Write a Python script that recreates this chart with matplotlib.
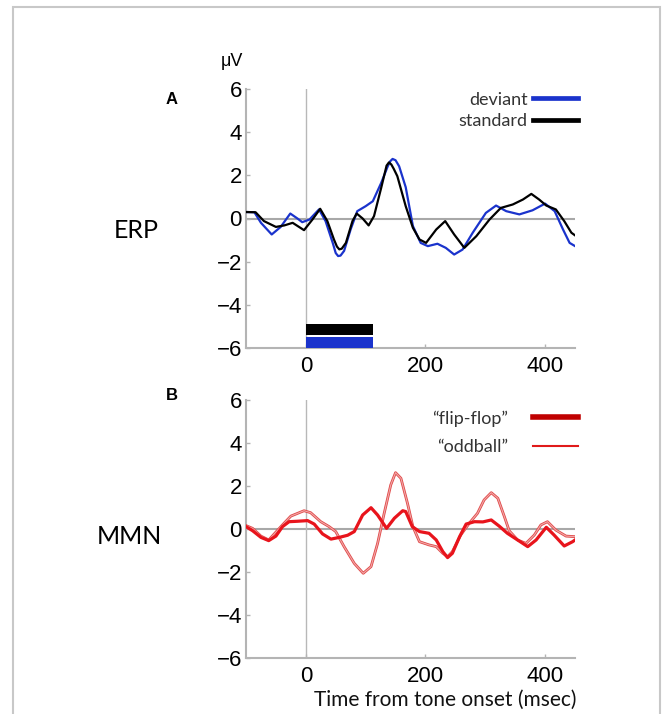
import matplotlib
matplotlib.use("Agg")
import matplotlib.pyplot as plt
import matplotlib.patheffects as pe
from matplotlib.lines import Line2D
from matplotlib.patches import Rectangle

plt.rcParams["font.family"] = ["Liberation Sans", "DejaVu Sans"]

# ---------------- data ----------------
deviant_t = [-100, -86, -75, -57, -42, -26, -14, -6, 6, 22, 33, 45, 50, 54, 58, 64, 75, 86, 100,
             112, 126, 137, 141, 145, 150, 156, 167, 179, 192, 204, 220, 234, 248, 262, 279,
             301, 318, 335, 357, 379, 400, 416, 430, 441, 452]
deviant_uv = [0.30, 0.29, -0.20, -0.74, -0.39, 0.23, 0.00, -0.17, -0.05, 0.42, -0.12, -1.13,
              -1.60, -1.74, -1.72, -1.50, -0.50, 0.34, 0.57, 0.80, 1.65, 2.42, 2.65, 2.76,
              2.70, 2.42, 1.45, -0.35, -1.13, -1.28, -1.17, -1.36, -1.67, -1.44, -0.66, 0.26,
              0.60, 0.34, 0.19, 0.38, 0.69, 0.34, -0.51, -1.13, -1.31]

standard_t = [-100, -84, -70, -50, -36, -22, -3, 11, 24, 36, 47, 52, 56, 60, 67, 78, 85, 95,
              105, 114, 126, 135, 139, 143, 147, 153, 167, 179, 190, 201, 218, 233, 248, 265,
              285, 307, 326, 346, 363, 377, 390, 402, 418, 432, 444, 452]
standard_uv = [0.30, 0.29, -0.12, -0.39, -0.32, -0.20, -0.54, -0.05, 0.45, -0.12, -0.97,
               -1.30, -1.43, -1.40, -1.13, -0.12, 0.23, 0.00, -0.32, 0.11, 1.42, 2.45, 2.60,
               2.50, 2.30, 1.96, 0.57, -0.43, -0.97, -1.13, -0.51, -0.12, -0.74, -1.36, -0.82,
               -0.05, 0.49, 0.65, 0.88, 1.14, 0.88, 0.60, 0.42, -0.12, -0.66, -0.82]

flipflop_t = [-100, -89, -75, -62, -50, -39, -28, -14, 3, 14, 28, 42, 56, 70, 81, 95, 109,
              120, 135, 148, 162, 167, 178, 190, 206, 218, 229, 237, 245, 257, 268, 282, 296,
              310, 323, 337, 354, 371, 385, 402, 415, 432, 446, 452]
flipflop_uv = [0.11, -0.08, -0.39, -0.54, -0.33, 0.11, 0.34, 0.36, 0.39, 0.23, -0.23, -0.47,
               -0.39, -0.29, -0.12, 0.65, 0.99, 0.65, 0.03, 0.50, 0.85, 0.81, 0.11, -0.12,
               -0.20, -0.51, -1.05, -1.33, -1.13, -0.36, 0.23, 0.34, 0.33, 0.42, 0.14, -0.20,
               -0.51, -0.82, -0.51, 0.08, -0.28, -0.79, -0.59, -0.47]

oddball_t = [-100, -89, -75, -62, -39, -25, -3, 8, 25, 39, 50, 64, 81, 96, 109, 120, 131,
             142, 150, 159, 170, 179, 190, 206, 218, 229, 237, 245, 259, 273, 287, 298, 310,
             321, 332, 340, 354, 368, 382, 393, 404, 418, 435, 452]
oddball_uv = [0.16, 0.03, -0.33, -0.51, 0.19, 0.60, 0.85, 0.76, 0.34, 0.11, -0.12, -0.82,
              -1.60, -2.06, -1.75, -0.67, 0.73, 2.05, 2.62, 2.36, 1.19, 0.11, -0.59, -0.74,
              -0.82, -1.13, -1.29, -1.05, -0.28, 0.26, 0.73, 1.35, 1.69, 1.43, 0.57, -0.08,
              -0.51, -0.67, -0.28, 0.19, 0.34, -0.05, -0.33, -0.36]

# stimulus bars (tone duration), one per condition
bar_start = [0, 0]
bar_end = [112, 112]
bar_low = [-5.4, -6.0]
bar_high = [-4.9, -5.5]

x_ticks = [0, 200, 400]
y_ticks = [-6, -4, -2, 0, 2, 4, 6]
x_range = (-100, 450)
y_range = (-6, 6)

# ---------------- style ----------------
BLUE = "#1a33cc"
BLACK = "#000000"
RED = "#e8141c"
DARKRED = "#c00000"
GRAY = "#b4b4b4"
SANS = "Liberation Sans"
SOFT = "Lato"

W, H = 663, 714
fig = plt.figure(figsize=(W / 100, H / 100), dpi=100)

def style_axes(ax):
    ax.set_xlim(*x_range)
    ax.set_ylim(*y_range)
    ax.set_xticks(x_ticks)
    ax.set_yticks(y_ticks)
    ax.set_yticklabels([str(v).replace("-", "\u2212") for v in y_ticks])
    for s in ("top", "right"):
        ax.spines[s].set_visible(False)
    for s in ("left", "bottom"):
        ax.spines[s].set_color(GRAY)
        ax.spines[s].set_linewidth(1.5)
    ax.tick_params(direction="in", length=3, color=GRAY, width=1,
                   labelsize=16, pad=3)
    ax.tick_params(axis="x", pad=6)
    ax.axhline(0, color="#a8a8a8", lw=1.5, zorder=1)
    ax.axvline(0, color="#b8b8b8", lw=1.0, zorder=1)

ax1 = fig.add_axes([246 / W, 1 - 348 / H, (575 - 246) / W, (348 - 89) / H])
ax2 = fig.add_axes([246 / W, 1 - 658 / H, (575 - 246) / W, (658 - 400) / H])
style_axes(ax1)
style_axes(ax2)

# top panel: ERP
ax1.plot(deviant_t, deviant_uv, color=BLUE, lw=1.6, zorder=3, solid_joinstyle="round")
ax1.plot(standard_t, standard_uv, color=BLACK, lw=1.6, zorder=4, solid_joinstyle="round")
for s, e, lo, hi, c in zip(bar_start, bar_end, bar_low, bar_high, [BLACK, BLUE]):
    ax1.fill_between([s, e], lo, hi, color=c, lw=0, zorder=5)

h1 = [Line2D([], [], color=BLUE, lw=3.4), Line2D([], [], color=BLACK, lw=3.4)]
leg1 = ax1.legend(h1, ["deviant", "standard"], loc="upper right",
                  bbox_to_anchor=(1.01, 0.99), frameon=False, markerfirst=False,
                  handlelength=2.5, handletextpad=0.3, labelspacing=0.3,
                  borderpad=0, borderaxespad=0, prop={"family": SOFT, "size": 13})
for t in leg1.get_texts():
    t.set_color("#333333")

# bottom panel: MMN
ax2.plot(oddball_t, oddball_uv, color="#f2a8a8", lw=0.8, zorder=3, solid_joinstyle="round",
         path_effects=[pe.Stroke(linewidth=2.0, foreground="#e04848"), pe.Normal()])
ax2.plot(flipflop_t, flipflop_uv, color=RED, lw=2.3, zorder=4, solid_joinstyle="round")

h2 = [Line2D([], [], color=DARKRED, lw=4.0), Line2D([], [], color="#e01a1a", lw=1.5)]
leg2 = ax2.legend(h2, ["\u201cflip-flop\u201d", "\u201coddball\u201d"], loc="upper right",
                  bbox_to_anchor=(1.01, 0.96), frameon=False, markerfirst=False,
                  handlelength=2.5, handletextpad=1.4, labelspacing=0.7,
                  borderpad=0, borderaxespad=0, prop={"family": SOFT, "size": 13})
for t in leg2.get_texts():
    t.set_color("#333333")

# figure texts
fig.text(232 / W, 1 - 62 / H, "\u03bcV", family=SANS, fontsize=13, ha="center", va="center")
fig.text(172 / W, 1 - 100 / H, "A", family=SANS, fontsize=12, fontweight="bold",
         ha="center", va="center")
fig.text(172 / W, 1 - 396 / H, "B", family=SANS, fontsize=12, fontweight="bold",
         ha="center", va="center")
fig.text(136 / W, 1 - 230 / H, "ERP", family=SOFT, fontsize=18, ha="center", va="center")
fig.text(129 / W, 1 - 536 / H, "MMN", family=SOFT, fontsize=18, ha="center", va="center")
fig.text(445 / W, 1 - 700 / H, "Time from tone onset (msec)", family=SOFT, fontsize=15,
         ha="center", va="center", color="#111111")

# outer frame
fig.add_artist(Rectangle((13 / W, -0.05), (660 - 13) / W, 1.05 - 7 / H,
                         transform=fig.transFigure, fill=False, ec="#c8c8c8", lw=1.5))

fig.savefig("out.png", dpi=100)
